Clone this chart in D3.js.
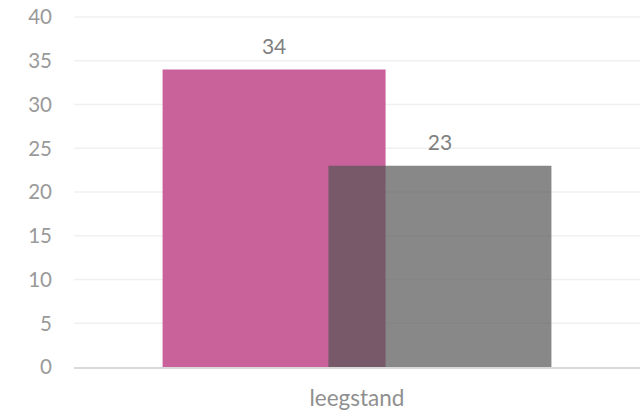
<!DOCTYPE html>
<html>
<head>
<meta charset="utf-8">
<script src="https://cdn.jsdelivr.net/npm/d3@7"></script>
<style>
  html, body { margin: 0; padding: 0; background: #fff; }
  svg { display: block; font-family: Lato, "Open Sans", sans-serif; }
</style>
</head>
<body>
<svg id="chart" width="643" height="414"></svg>
<script>
// Chart data
const categories = ["leegstand"];
const seriesNames = ["reeks 1", "reeks 2"];
const seriesValues = [[34], [23]];
const yTicks = [0, 5, 10, 15, 20, 25, 30, 35, 40];
const seriesColors = ["#c9619a", "#555555"];
const seriesOpacity = [1, 0.7];

const svg = d3.select("#chart");
const margin = { left: 74, right: 3, top: 17, bottom: 47 };
const W = 643, H = 414;

const x = d3.scaleBand().domain(categories).range([margin.left, W - margin.right]);
const y = d3.scaleLinear().domain([0, 40]).range([H - margin.bottom, margin.top]);

// Gridlines
svg.append("g").selectAll("line").data(yTicks.filter(t => t > 0)).join("line")
  .attr("x1", margin.left).attr("x2", W - margin.right)
  .attr("y1", d => y(d)).attr("y2", d => y(d))
  .attr("stroke", "#f0f0f0").attr("stroke-width", 1.5);

// Y tick labels
svg.append("g").selectAll("text").data(yTicks).join("text")
  .attr("x", 52).attr("y", d => y(d)).attr("dy", "0.36em")
  .attr("text-anchor", "end")
  .attr("fill", "#9a9a9a").attr("font-size", 20.5)
  .text(d => d);

// Bars: series overlap inside the category band
const barW = x.bandwidth() * 0.394;
const step = x.bandwidth() * 0.293;
const barCenter = (cat, i) => x(cat) + x.bandwidth() / 2 + (i - (seriesNames.length - 1) / 2) * step;

seriesNames.forEach((name, i) => {
  const g = svg.append("g");
  g.selectAll("rect").data(categories).join("rect")
    .attr("x", c => barCenter(c, i) - barW / 2)
    .attr("width", barW)
    .attr("y", (c, j) => y(seriesValues[i][j]))
    .attr("height", (c, j) => y(0) - y(seriesValues[i][j]))
    .attr("fill", seriesColors[i])
    .attr("fill-opacity", seriesOpacity[i]);
  g.selectAll("text").data(categories).join("text")
    .attr("x", c => barCenter(c, i))
    .attr("y", (c, j) => y(seriesValues[i][j]) - 16)
    .attr("text-anchor", "middle")
    .attr("fill", "#808080").attr("font-size", 21)
    .text((c, j) => seriesValues[i][j]);
});

// X axis baseline
svg.append("line")
  .attr("x1", margin.left).attr("x2", W - margin.right)
  .attr("y1", y(0) + 1).attr("y2", y(0) + 1)
  .attr("stroke", "#d9d9d9").attr("stroke-width", 2);

// Category label
svg.append("g").selectAll("text").data(categories).join("text")
  .attr("x", c => x(c) + x.bandwidth() / 2)
  .attr("y", H - 8)
  .attr("text-anchor", "middle")
  .attr("fill", "#8f8f8f").attr("font-size", 22.5)
  .text(c => c);
</script>
</body>
</html>
